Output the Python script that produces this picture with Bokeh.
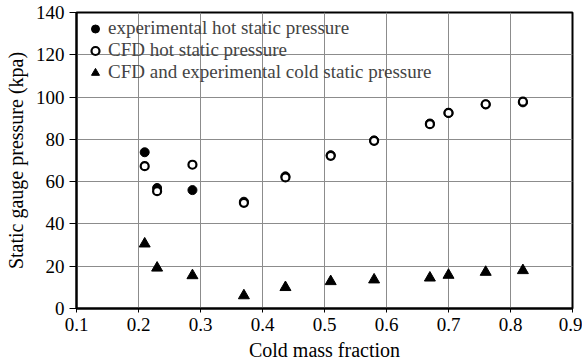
from bokeh.plotting import figure
from bokeh.models import ColumnDataSource, Legend, LegendItem, FixedTicker, Range1d
from bokeh.embed import file_html
from bokeh.resources import INLINE

cold_fraction = [0.21, 0.23, 0.287, 0.37, 0.437, 0.51, 0.58, 0.67, 0.70, 0.76, 0.82]
exp_hot = [73.9, 57.0, 56.0, 50.5, 62.5, 72.5, 79.5, 87.5, 92.5, 96.5, 97.5]
cfd_hot = [67.3, 55.5, 68.0, 50.0, 62.0, 72.2, 79.3, 87.2, 92.5, 96.6, 97.8]
cold_static = [30.6, 19.2, 15.6, 6.1, 10.0, 12.8, 13.6, 14.5, 15.8, 17.2, 18.0]

x_ticks = [0.1, 0.2, 0.3, 0.4, 0.5, 0.6, 0.7, 0.8, 0.9]
y_ticks = [0, 20, 40, 60, 80, 100, 120, 140]

FONT = "Liberation Serif"

p = figure(width=582, height=363, output_backend="svg", toolbar_location=None,
           x_range=Range1d(0.1, 0.9), y_range=Range1d(0, 140),
           min_border_left=76, min_border_right=10, min_border_top=12, min_border_bottom=55)

src = ColumnDataSource(dict(x=cold_fraction, eh=exp_hot, ch=cfd_hot, cs=cold_static))

r1 = p.scatter("x", "eh", source=src, marker="circle", size=9, fill_color="black", line_color="black")
r2 = p.scatter("x", "ch", source=src, marker="circle", size=8, fill_color="white", line_color="black", line_width=2.2)
r3 = p.scatter("x", "cs", source=src, marker="triangle", size=11, fill_color="black", line_color="black")

legend = Legend(items=[LegendItem(label="experimental hot static pressure", renderers=[r1]),
                       LegendItem(label="CFD hot static pressure", renderers=[r2]),
                       LegendItem(label="CFD and experimental cold static pressure", renderers=[r3])],
                location=(3, 219), border_line_alpha=0, background_fill_alpha=0,
                label_text_font=FONT, label_text_font_size="19px", spacing=0,
                glyph_width=20, glyph_height=21, label_height=21, padding=6, margin=0,
                label_standoff=3)
p.add_layout(legend, "center")

p.xaxis.ticker = FixedTicker(ticks=x_ticks)
p.yaxis.ticker = FixedTicker(ticks=y_ticks)
p.xaxis.major_label_overrides = {t: ("%g" % t) for t in x_ticks}
p.xaxis.axis_label = "Cold mass fraction"
p.yaxis.axis_label = "Static gauge pressure (kpa)"

p.axis.axis_line_width = 2
p.axis.axis_line_color = "black"
p.axis.major_tick_line_color = "black"
p.axis.major_tick_line_width = 1
p.axis.major_tick_in = 0
p.axis.minor_tick_line_color = None
p.axis.major_label_text_font = FONT
p.axis.major_label_text_font_size = "19px"
p.axis.major_label_text_font_style = "normal"
p.axis.major_label_text_color = "black"
p.axis.axis_label_text_font = FONT
p.axis.axis_label_text_font_size = "20px"
p.axis.axis_label_text_font_style = "normal"
p.axis.axis_label_text_color = "black"

p.xaxis.major_tick_out = 4
p.xaxis.major_label_standoff = 5
p.yaxis.major_tick_out = 7
p.yaxis.major_label_standoff = 5

p.xaxis.axis_label_standoff = 5
p.yaxis.axis_label_standoff = 6

p.grid.grid_line_color = "#8c8c8c"
p.grid.grid_line_width = 1
p.outline_line_color = "black"
p.outline_line_width = 2
p.outline_line_alpha = 1

open("out.html", "w").write(file_html(p, INLINE))
